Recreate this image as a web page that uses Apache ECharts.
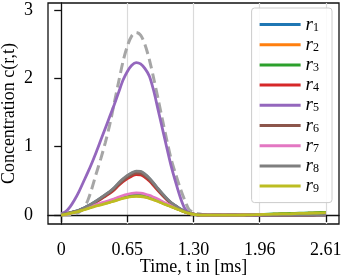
<!DOCTYPE html>
<html>
<head>
<meta charset="utf-8">
<script src="https://cdn.jsdelivr.net/npm/echarts@6/dist/echarts.min.js"></script>
<style>
html,body{margin:0;padding:0;background:#fff;}
#c{width:341px;height:277px;}
</style>
</head>
<body>
<div id="c"></div>
<script>
// time samples [ms]
const t = [0, 0.0435, 0.087, 0.1305, 0.174, 0.2175, 0.261, 0.3045, 0.348, 0.3915, 0.435, 0.4785, 0.522, 0.5655, 0.609, 0.6525, 0.696, 0.7395, 0.783, 0.8265, 0.87, 0.9135, 0.957, 1.0005, 1.044, 1.0875, 1.131, 1.1745, 1.218, 1.2615, 1.305, 1.3485, 1.392,
  1.479, 1.566, 1.653, 1.74, 1.827, 1.914, 2.001, 2.088, 2.175, 2.262, 2.349, 2.436, 2.523, 2.61];

const r1 = [0.01,0.02,0.035,0.05,0.07,0.1,0.133,0.167,0.207,0.25,0.295,0.34,0.395,0.463,0.522,0.571,0.61,0.633,0.63,0.59,0.532,0.458,0.38,0.305,0.236,0.177,0.133,0.089,0.054,0.03,0.015,0.005,0,
  0,0,0,0,0,0,0,0,0,0,0,0,0.003,0.005];
const r2 = [0.005,0.014,0.029,0.044,0.06,0.08,0.1,0.12,0.14,0.155,0.173,0.19,0.21,0.23,0.25,0.265,0.275,0.28,0.277,0.267,0.25,0.227,0.203,0.175,0.15,0.125,0.099,0.073,0.047,0.026,0.01,0.003,0,
  0,0,0,0,0.003,0.006,0.01,0.013,0.017,0.02,0.024,0.027,0.031,0.035];
const r3 = [0.03,0.022,0.03,0.045,0.062,0.082,0.103,0.124,0.145,0.162,0.18,0.198,0.219,0.24,0.26,0.276,0.286,0.29,0.287,0.277,0.259,0.235,0.21,0.18,0.153,0.127,0.1,0.074,0.048,0.027,0.011,0.003,0,
  0,0,0,0,0.004,0.008,0.012,0.016,0.02,0.024,0.028,0.032,0.036,0.04];
const r4 = [0.01,0.018,0.032,0.046,0.064,0.092,0.124,0.156,0.193,0.235,0.276,0.317,0.368,0.432,0.488,0.534,0.57,0.592,0.589,0.552,0.497,0.428,0.354,0.285,0.221,0.166,0.124,0.083,0.051,0.028,0.014,0.005,0,
  0,0,0,0,0,0,0,0,0,0,0,0,0.003,0.005];
const r5 = [0.02,0.05,0.12,0.22,0.34,0.48,0.62,0.77,0.93,1.10,1.27,1.44,1.61,1.79,1.97,2.10,2.19,2.23,2.21,2.14,2.03,1.81,1.53,1.25,0.97,0.70,0.47,0.26,0.10,0.03,0.01,0.005,0,
  0,0,0,0,0,0,0,0,0.005,0.005,0.005,0.01,0.01,0.01];
const r6 = [0.01,0.019,0.033,0.048,0.067,0.095,0.129,0.162,0.2,0.243,0.286,0.329,0.381,0.448,0.505,0.553,0.591,0.613,0.61,0.572,0.515,0.443,0.367,0.295,0.229,0.172,0.129,0.086,0.052,0.029,0.014,0.005,0,
  0,0,0,0,0,0,0,0,0,0,0,0,0.003,0.005];
const r7 = [0.01,0.012,0.025,0.043,0.063,0.087,0.11,0.133,0.155,0.175,0.195,0.215,0.238,0.262,0.285,0.303,0.316,0.323,0.32,0.308,0.288,0.26,0.23,0.197,0.165,0.135,0.106,0.078,0.05,0.027,0.011,0.003,0,
  0,0,0,0,0.002,0.004,0.006,0.008,0.01,0.012,0.014,0.016,0.018,0.02];
const r8 = [0.01,0.02,0.035,0.05,0.07,0.10,0.135,0.17,0.21,0.255,0.30,0.345,0.40,0.47,0.53,0.58,0.62,0.643,0.64,0.60,0.54,0.465,0.385,0.31,0.24,0.18,0.135,0.09,0.055,0.03,0.015,0.005,0,
  0,0,0,0,0,0,0,0,0,0,0,0,0.003,0.005];
const r9 = [0.0,0.01,0.025,0.04,0.055,0.075,0.095,0.115,0.135,0.15,0.168,0.185,0.205,0.225,0.245,0.26,0.27,0.275,0.272,0.262,0.245,0.222,0.198,0.17,0.145,0.12,0.095,0.07,0.045,0.025,0.01,0.003,0,
  0,0,0,0,0.003,0.006,0.01,0.013,0.017,0.02,0.024,0.027,0.031,0.035];
// reference (dashed) curve
const ref = [0,0,0,0.01,0.04,0.10,0.21,0.40,0.62,0.83,1.06,1.32,1.63,1.94,2.24,2.47,2.62,2.67,2.63,2.49,2.27,1.99,1.69,1.38,1.08,0.80,0.59,0.39,0.22,0.08,0.04,0.02,0.01,
  0,0,0,0,0,0,0,0,0,0,0,0,0,0];

const seriesNames = ['r1','r2','r3','r4','r5','r6','r7','r8','r9'];
const seriesValues = [r1,r2,r3,r4,r5,r6,r7,r8,r9];
const colors = ['#1f77b4','#ff7f0e','#2ca02c','#d62728','#9467bd','#8c564b','#e377c2','#7f7f7f','#bcbd22'];

const xTicks = [0, 0.6525, 1.305, 1.9575, 2.61];
const xTickLabels = ['0', '0.65', '1.30', '1.96', '2.61'];
const yTicks = [0, 1, 2, 3];
const yTickLabels = ['0', '1', '2', '3'];

const FONT = 'Liberation Serif';

const pairs = arr => t.map((x, i) => [x, arr[i]]);

const series = [{
  name: 'ref', type: 'line', data: pairs(ref), symbol: 'none', smooth: 0.3,
  lineStyle: {color: '#a6a6a6', width: 3, type: [10, 5]}, itemStyle: {color: '#a6a6a6'},
  z: 1
}];
seriesNames.forEach((n, i) => {
  series.push({
    name: n, type: 'line', data: pairs(seriesValues[i]), symbol: 'none', smooth: 0.3,
    lineStyle: {color: colors[i], width: 2.8}, itemStyle: {color: colors[i]}, z: 2
  });
});

const chart = echarts.init(document.getElementById('c'), null, {renderer: 'canvas'});
chart.setOption({
  animation: false,
  backgroundColor: '#fff',
  grid: {left: 48, right: 2, top: 3, bottom: 53, outerBoundsMode: 'none', containLabel: false,
    show: true, borderColor: '#111', borderWidth: 1.3, backgroundColor: 'transparent'},
  xAxis: {
    type: 'value', min: -0.1305, max: 2.7405,
    name: 'Time, t in [ms]', nameLocation: 'middle', nameGap: 34, nameMoveOverlap: false,
    nameTextStyle: {fontFamily: FONT, fontSize: 18, color: '#000'},
    axisLine: {show: true, lineStyle: {color: '#111', width: 1.3}},
    axisTick: {show: true, length: 7, customValues: xTicks, lineStyle: {color: '#111', width: 1.3}},
    axisLabel: {customValues: xTicks, margin: 17, fontFamily: FONT, fontSize: 18, color: '#000',
      formatter: v => { const k = xTicks.findIndex(x => Math.abs(x - v) < 1e-6); return k >= 0 ? xTickLabels[k] : ''; }},
    splitLine: {show: true, lineStyle: {color: '#dadada', width: 1.2}}
  },
  yAxis: {
    type: 'value', min: -0.13, max: 3.1,
    name: 'Concentration c(r,t)', nameLocation: 'middle', nameGap: 30, nameRotate: 90, nameMoveOverlap: false,
    nameTextStyle: {fontFamily: FONT, fontSize: 18, color: '#000'},
    axisLine: {show: true, lineStyle: {color: '#111', width: 1.3}},
    axisTick: {show: true, length: 7, customValues: yTicks, lineStyle: {color: '#111', width: 1.3}},
    axisLabel: {customValues: yTicks, margin: 15, fontFamily: FONT, fontSize: 18, color: '#000',
      formatter: v => { const k = yTicks.findIndex(x => Math.abs(x - v) < 1e-6); return k >= 0 ? yTickLabels[k] : ''; }},
    splitLine: {show: false}
  },
  legend: {
    orient: 'vertical', right: 9, top: 8,
    data: seriesNames.map(n => ({name: n, icon: 'rect'})),
    itemWidth: 41, itemHeight: 3, itemGap: 1.2,
    padding: [7, 13, 7, 8],
    borderColor: '#cccccc', borderWidth: 1, borderRadius: 3,
    backgroundColor: 'rgba(255,255,255,0.85)',
    formatter: n => '{i|r}{s|' + n.slice(1) + '}',
    textStyle: {
      color: '#000',
      rich: {
        i: {fontFamily: FONT, fontStyle: 'italic', fontSize: 19, lineHeight: 18, color: '#000'},
        s: {fontFamily: FONT, fontSize: 12, lineHeight: 10, verticalAlign: 'bottom', color: '#000'}
      }
    }
  },
  series: series
});
</script>
</body>
</html>
